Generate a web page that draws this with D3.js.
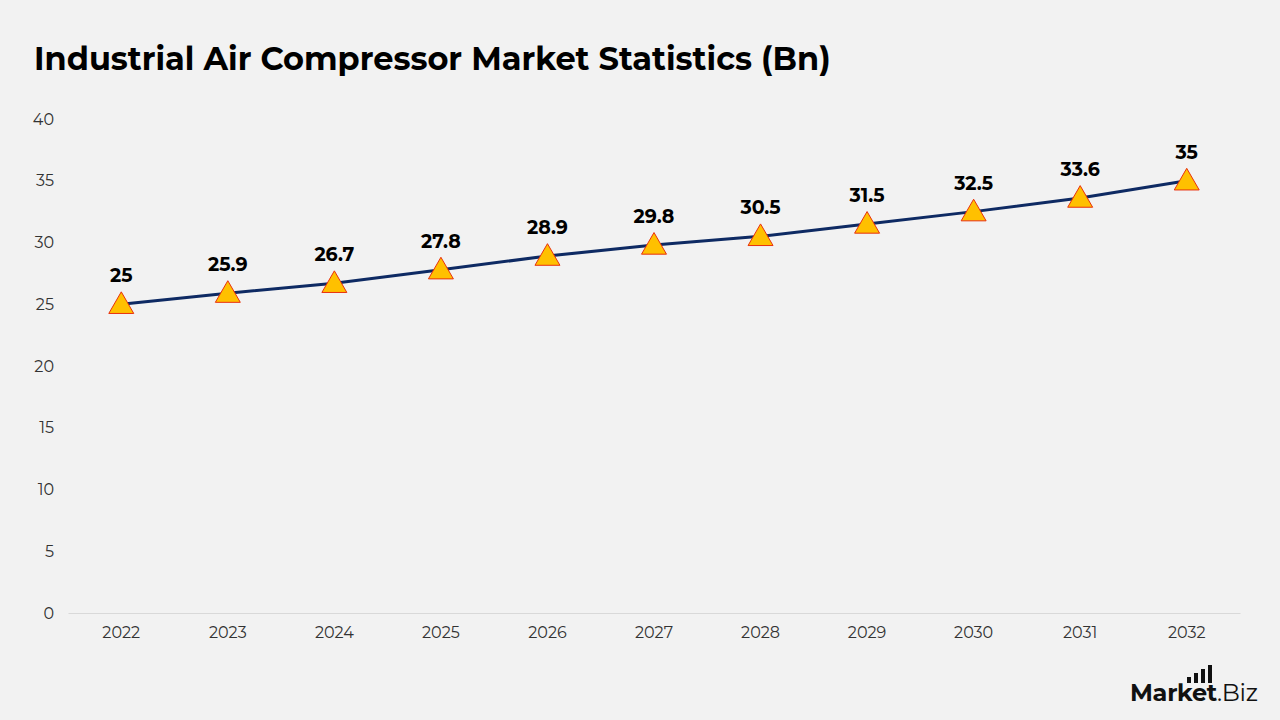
<!DOCTYPE html>
<html>
<head>
<meta charset="utf-8">
<script src="https://cdn.jsdelivr.net/npm/d3@7"></script>
<style>
  body { margin: 0; background: #f2f2f2; }
  svg { display: block; }
</style>
</head>
<body>
<div id="chart"></div>
<script>
// chart data
const years = ["2022", "2023", "2024", "2025", "2026", "2027", "2028", "2029", "2030", "2031", "2032"];
const marketSize = [25, 25.9, 26.7, 27.8, 28.9, 29.8, 30.5, 31.5, 32.5, 33.6, 35];
const yTicks = [0, 5, 10, 15, 20, 25, 30, 35, 40];

const width = 1280, height = 720;
const margin = { top: 119, right: 40, bottom: 107, left: 68 };
const font = "Montserrat, 'Open Sans', sans-serif";

const svg = d3.select("#chart").append("svg")
    .attr("width", width)
    .attr("height", height);

svg.append("rect").attr("width", width).attr("height", height).attr("fill", "#f2f2f2");

// title
svg.append("text")
    .attr("x", 34)
    .attr("y", 70)
    .attr("font-family", font)
    .attr("font-weight", 700)
    .attr("font-size", 32)
    .attr("fill", "#000")
    .text("Industrial Air Compressor Market Statistics (Bn)");

const x = d3.scaleBand()
    .domain(years)
    .range([margin.left, width - margin.right]);

const y = d3.scaleLinear()
    .domain([0, 40])
    .range([height - margin.bottom, margin.top]);

// y axis labels (no line)
const yAxis = svg.append("g")
    .attr("transform", `translate(${margin.left},0)`)
    .call(d3.axisLeft(y).tickValues(yTicks).tickSize(0).tickPadding(14));
yAxis.select(".domain").remove();
yAxis.selectAll("text")
    .attr("font-family", font)
    .attr("font-size", 16)
    .attr("fill", "#333");

// x axis
const xAxis = svg.append("g")
    .attr("transform", `translate(0,${y(0)})`)
    .call(d3.axisBottom(x).tickSize(0).tickPadding(14));
xAxis.select(".domain").attr("stroke", "#d9d9d9").attr("stroke-width", 1);
xAxis.selectAll("text")
    .attr("font-family", font)
    .attr("font-size", 16)
    .attr("fill", "#333");

const points = years.map((yr, i) => ({ year: yr, value: marketSize[i] }));
const cx = d => x(d.year) + x.bandwidth() / 2;

// line
svg.append("path")
    .datum(points)
    .attr("fill", "none")
    .attr("stroke", "#0e2a63")
    .attr("stroke-width", 3)
    .attr("d", d3.line().x(cx).y(d => y(d.value)));

// triangle markers
const tri = d3.symbol().type(d3.symbolTriangle).size(270);
svg.append("g")
    .selectAll("path")
    .data(points)
    .join("path")
    .attr("transform", d => `translate(${cx(d)},${y(d.value) + 2})`)
    .attr("d", tri)
    .attr("fill", "#ffc000")
    .attr("stroke", "#e8300e")
    .attr("stroke-width", 1);

// value labels
svg.append("g")
    .selectAll("text")
    .data(points)
    .join("text")
    .attr("x", cx)
    .attr("y", d => y(d.value) - 22)
    .attr("text-anchor", "middle")
    .attr("font-family", font)
    .attr("font-weight", 700)
    .attr("font-size", 19)
    .attr("fill", "#000")
    .text(d => d.value);

// logo
const logo = svg.append("g").attr("transform", "translate(1130,701)");
logo.append("text")
    .attr("font-family", font)
    .attr("font-weight", 700)
    .attr("font-size", 24)
    .attr("letter-spacing", -0.3)
    .attr("fill", "#111")
    .text("Market")
  .append("tspan")
    .attr("font-weight", 400)
    .text(".Biz");
[[57, 6], [64, 10], [71, 14], [78, 18]].forEach(([bx, bh]) => {
    logo.append("rect")
        .attr("x", bx).attr("y", -18 - bh)
        .attr("width", 4).attr("height", bh)
        .attr("fill", "#111");
});
</script>
</body>
</html>
